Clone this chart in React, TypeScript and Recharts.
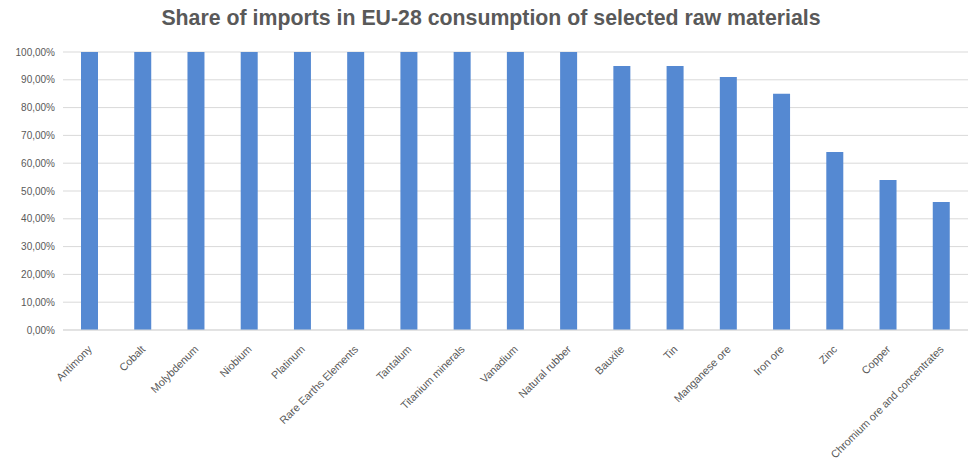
import { Bar, BarChart, CartesianGrid, XAxis, YAxis } from "recharts";

const materials = [
  "Antimony",
  "Cobalt",
  "Molybdenum",
  "Niobium",
  "Platinum",
  "Rare Earths Elements",
  "Tantalum",
  "Titanium minerals",
  "Vanadium",
  "Natural rubber",
  "Bauxite",
  "Tin",
  "Manganese ore",
  "Iron ore",
  "Zinc",
  "Copper",
  "Chromium ore and concentrates",
];

const importShare = [100, 100, 100, 100, 100, 100, 100, 100, 100, 100, 95, 95, 91, 85, 64, 54, 46];

const yTicks = [0, 10, 20, 30, 40, 50, 60, 70, 80, 90, 100];

const data = materials.map((name, i) => ({ name, share: importShare[i] }));

const fmt = (v: number) => v.toFixed(2).replace(".", ",") + "%";

const AngledTick = (props: any) => {
  const { x, y, payload } = props;
  return (
    <g transform={`translate(${x + 3},${y + 12})`}>
      <text
        textAnchor="end"
        transform="rotate(-45)"
        fontSize={10.8}
        fill="#595959"
        fontFamily="Liberation Sans, Arial, sans-serif"
      >
        {payload.value}
      </text>
    </g>
  );
};

export default function App() {
  return (
    <div style={{ position: "absolute", left: 0, top: 0, width: 970, height: 462, background: "#fff" }}>
      <div
        style={{
          position: "absolute",
          left: 0,
          top: 6,
          width: 982,
          textAlign: "center",
          fontFamily: "Liberation Sans, Arial, sans-serif",
          fontWeight: "bold",
          fontSize: 21.3,
          color: "#595959",
        }}
      >
        Share of imports in EU-28 consumption of selected raw materials
      </div>
      <BarChart
        width={970}
        height={462}
        data={data}
        margin={{ top: 52, right: 2, left: 0, bottom: 0 }}
      >
        <CartesianGrid vertical={false} stroke="#d9d9d9" />
        <XAxis
          dataKey="name"
          interval={0}
          height={132}
          tickLine={false}
          axisLine={{ stroke: "#d9d9d9" }}
          tick={<AngledTick />}
        />
        <YAxis
          width={63}
          domain={[0, 100]}
          ticks={yTicks}
          tickFormatter={fmt}
          tickLine={false}
          axisLine={false}
          tick={{ fontSize: 10, fill: "#595959", fontFamily: "Liberation Sans, Arial, sans-serif" }}
        />
        <Bar dataKey="share" fill="#5589d2" barSize={17} isAnimationActive={false} />
      </BarChart>
    </div>
  );
}
